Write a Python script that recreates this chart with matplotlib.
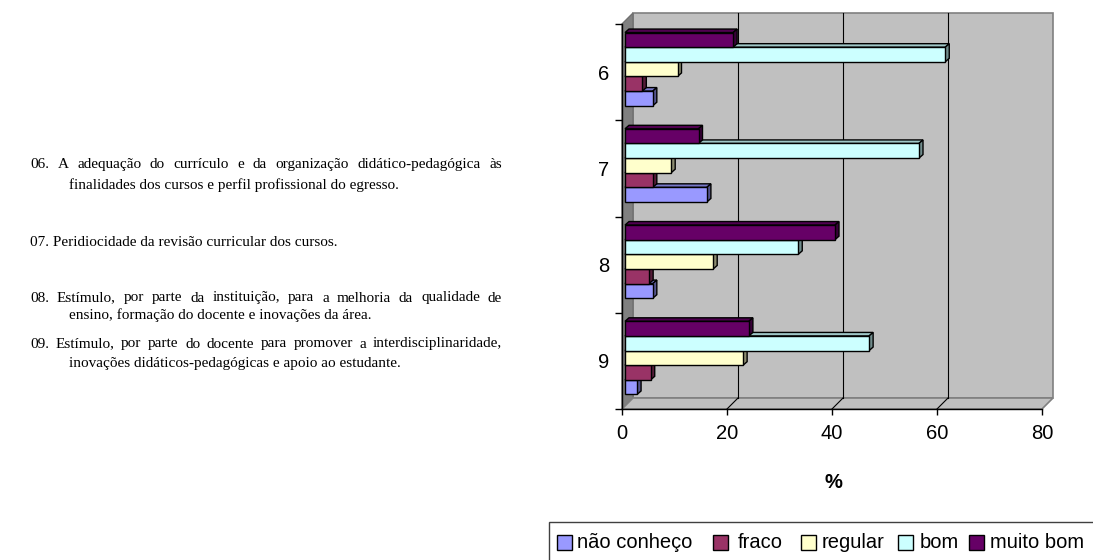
import matplotlib
matplotlib.use('Agg')
import matplotlib.pyplot as plt
from matplotlib.patches import Polygon, Rectangle
from matplotlib.lines import Line2D

# ---------------- data ----------------
questions = ['6', '7', '8', '9']
series = ['não conheço', 'fraco', 'regular', 'bom', 'muito bom']
nao_conheco = [5.3, 15.6, 5.3, 2.3]
fraco = [3.3, 5.3, 4.6, 4.9]
regular = [10.0, 8.8, 16.8, 22.5]
bom = [61.0, 56.0, 33.0, 46.5]
muito_bom = [20.6, 14.0, 40.0, 23.6]
values = [nao_conheco, fraco, regular, bom, muito_bom]
colors = ['#9999FF', '#993366', '#FFFFCC', '#CCFFFF', '#660066']
xticks = [0, 20, 40, 60, 80]
xlabel = '%'

q06 = ["06. A adequação do currículo e da organização didático-pedagógica às",
       "finalidades dos cursos e perfil profissional do egresso."]
q07 = ["07. Peridiocidade da revisão curricular dos cursos."]
q08 = ["08. Estímulo, por parte da instituição, para a melhoria da qualidade de",
       "ensino, formação do docente e inovações da área."]
q09 = ["09. Estímulo, por parte do docente para promover a interdisciplinaridade,",
       "inovações didáticos-pedagógicas e apoio ao estudante."]

# ---------------- figure ----------------
W, H = 1093, 560
fig = plt.figure(figsize=(W / 100, H / 100), dpi=100)
plt.rcParams['font.family'] = ['Liberation Sans', 'DejaVu Sans']

ax_l, ax_r, ax_t, ax_b = 622, 1042, 24, 409
ax = fig.add_axes([ax_l / W, 1 - ax_b / H, (ax_r - ax_l) / W, (ax_b - ax_t) / H])
ax.set_xlim(0, 80)
ax.set_ylim(4, 0)
ax.patch.set_visible(False)
for s in ['top', 'right']:
    ax.spines[s].set_visible(False)
for s in ['left', 'bottom']:
    ax.spines[s].set_color('black')
    ax.spines[s].set_linewidth(1.0)
    ax.spines[s].set_zorder(20)

PX = 80 / (ax_r - ax_l)      # data units per pixel (x)
PY = 4 / (ax_b - ax_t)       # data units per pixel (y)

# walls (3D box)
wdx, wdy = 11 * PX, -11 * PY
ax.add_patch(Rectangle((wdx, wdy), 80, 4, facecolor='#C0C0C0', edgecolor='#808080',
                       lw=1.2, zorder=0, clip_on=False))
ax.add_patch(Polygon([(0, 0), (wdx, wdy), (wdx, 4 + wdy), (0, 4)], closed=True,
                     facecolor='#808080', edgecolor='#707070', lw=1.0, zorder=0.5, clip_on=False))
ax.add_patch(Polygon([(0, 4), (80, 4), (80 + wdx, 4 + wdy), (wdx, 4 + wdy)], closed=True,
                     facecolor='#C0C0C0', edgecolor='#808080', lw=1.2, zorder=0.5, clip_on=False))
for xv in xticks[1:-1]:
    ax.add_line(Line2D([xv + wdx, xv + wdx], [wdy, 4 + wdy], color='black', lw=0.8,
                       zorder=0.6, clip_on=False))
    ax.add_line(Line2D([xv, xv + wdx], [4, 4 + wdy], color='black', lw=0.8,
                       zorder=0.6, clip_on=False))

# bars
def shade(c, f):
    c = c.lstrip('#')
    r, g, b = (int(c[i:i + 2], 16) for i in (0, 2, 4))
    return (r * f / 255, g * f / 255, b * f / 255)

bdx, bdy = 3 * PX, -3 * PY          # depth of bars' front face
ex, ey = 4 * PX, -3.5 * PY           # bar extrusion
bh = 0.152
start = 0.12
nser = len(series)
for s, (vals, col) in enumerate(zip(values, colors)):
    slot = nser - 1 - s
    centers = [i + start + slot * bh + bh / 2 + bdy for i in range(len(questions))]
    ax.barh(centers, vals, height=bh, left=bdx, color=col, edgecolor='black',
            linewidth=1.0, zorder=3 + 2 * s, label=series[s])
    for yc, v in zip(centers, vals):
        top, bot = yc - bh / 2, yc + bh / 2
        x1 = bdx + v
        ax.add_patch(Polygon([(bdx, top), (x1, top), (x1 + ex, top + ey), (bdx + ex, top + ey)],
                             closed=True, facecolor=shade(col, 0.78), edgecolor='black',
                             lw=1.0, zorder=2 + 2 * s, clip_on=False))
        ax.add_patch(Polygon([(x1, top), (x1, bot), (x1 + ex, bot + ey), (x1 + ex, top + ey)],
                             closed=True, facecolor=shade(col, 0.55), edgecolor='black',
                             lw=1.0, zorder=2 + 2 * s, clip_on=False))

# ticks
ax.set_xticks(xticks)
ax.set_xticklabels([str(v) for v in xticks], fontsize=14.5)
ax.tick_params(axis='x', direction='out', length=4, width=1, pad=7, colors='black')
ax.set_yticks(range(len(questions) + 1))
ax.set_yticklabels([''] * (len(questions) + 1))
ax.set_yticks([i + 0.5 for i in range(len(questions))], minor=True)
ax.set_yticklabels(questions, minor=True, fontsize=14.5)
ax.tick_params(axis='y', which='major', direction='out', length=5, width=1)
ax.tick_params(axis='y', which='minor', length=0, pad=9)

fig.text(833 / W, 1 - 482 / H, xlabel, fontsize=14.5, fontweight='bold',
         ha='center', va='center')

# legend (manual, Excel-like)
fig.add_artist(Rectangle((549 / W, 1 - 570 / H), (1100 - 549) / W, (570 - 522) / H,
                         transform=fig.transFigure, facecolor='white', edgecolor='#404040',
                         lw=1.0, clip_on=False))
mark_x = [557, 713, 801, 898, 969]
text_x = [577, 738, 822, 920, 990]
ly = 542
for s in range(nser):
    fig.add_artist(Rectangle((mark_x[s] / W, 1 - (ly + 7.5) / H), 14.5 / W, 14.5 / H,
                             transform=fig.transFigure, facecolor=colors[s],
                             edgecolor='black', lw=1.0))
    fig.text(text_x[s] / W, 1 - ly / H, series[s], fontsize=14.5, ha='left', va='center')

# left text block
fig.canvas.draw()
rend = fig.canvas.get_renderer()
serif = dict(family=['Liberation Serif', 'DejaVu Serif'], fontsize=11, va='baseline')
BL = 4.5  # baseline offset below line centre (px)

def justified(line, x0, x1, y):
    words = line.split(' ')
    ts = [fig.text(0, 1 - (y + BL) / H, w, **serif) for w in words]
    widths = [t.get_window_extent(rend).width for t in ts]
    gap = (x1 - x0 - sum(widths)) / (len(words) - 1)
    x = x0
    for t, w in zip(ts, widths):
        t.set_x(x / W)
        x += w + gap

def plain(line, x0, y):
    fig.text(x0 / W, 1 - (y + BL) / H, line, ha='left', **serif)

tx0, tx1, tind = 30, 502, 69
justified(q06[0], tx0, tx1, 164)
plain(q06[1], tind, 184)
plain(q07[0], tx0, 242)
justified(q08[0], tx0, tx1, 297)
plain(q08[1], tind, 315)
justified(q09[0], tx0, tx1, 343)
plain(q09[1], tind, 362)

fig.savefig('out.png', dpi=100)
